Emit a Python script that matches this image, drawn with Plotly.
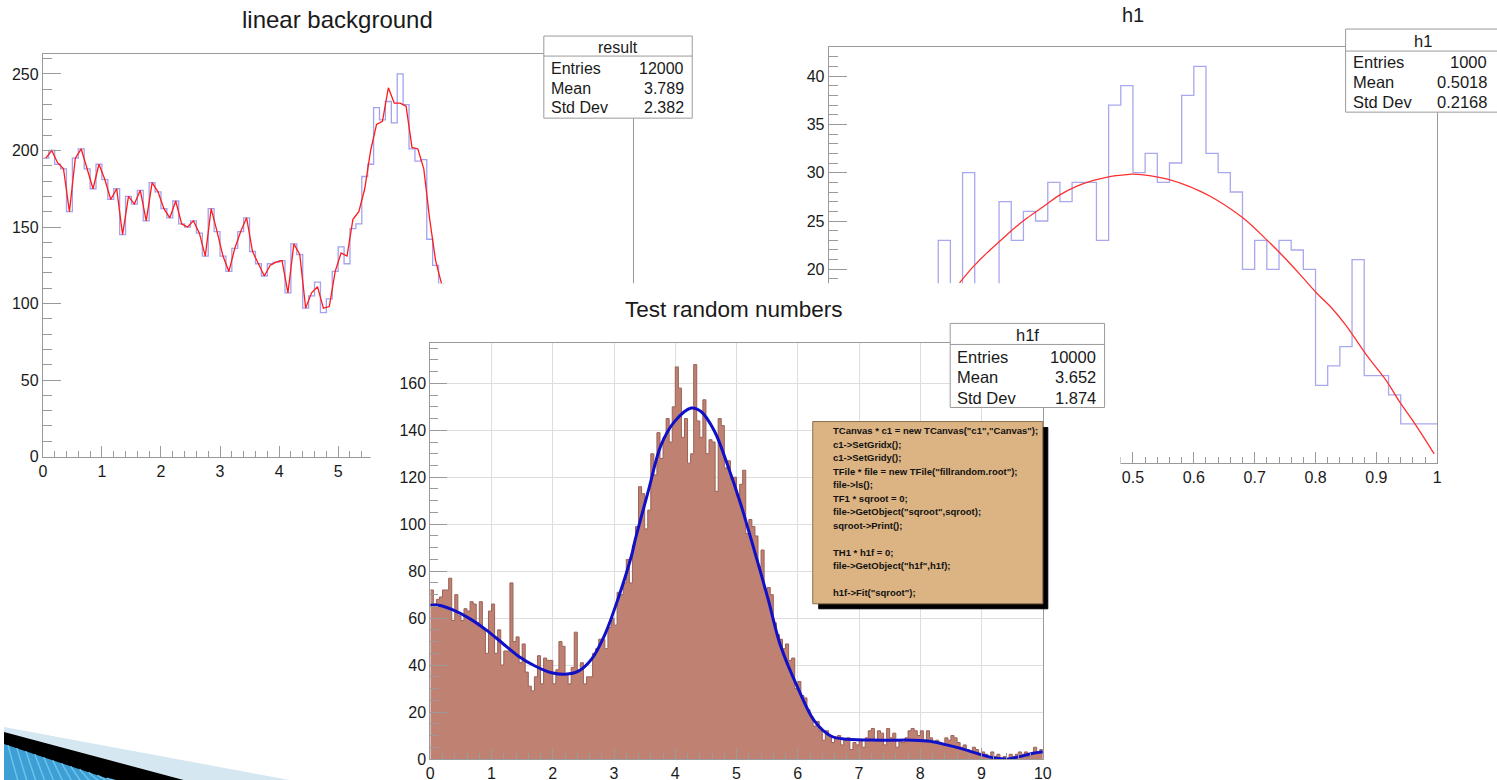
import plotly.graph_objects as go

W, H = 1497, 780          # reference canvas size used to place things in paper fractions
FIG_W, FIG_H = 1504, 790  # page size of the figure
def px(x): return x / W
def py(y): return 1 - y / H

FONT = "Liberation Sans, Arial, Helvetica, sans-serif"
FRAME = "#9a9a9a"
TXT = "#1a1a1a"

# ---------------- data: "linear background" (100 bins on [0,10], visible part) -------------
lb_bin_width = 0.1
lb_values = [195, 200, 191, 188, 160, 195, 201, 188, 175, 191,
             181, 168, 175, 145, 170, 165, 174, 154, 179, 173,
             162, 156, 167, 152, 150, 154, 146, 131, 162, 147,
             131, 121, 136, 147, 156, 134, 126, 118, 126, 127,
             128, 107, 139, 132, 97, 105, 114, 94, 103, 121,
             137, 126, 149, 152, 183, 191, 228, 220, 232, 218,
             250, 230, 201, 193, 194, 142, 125, 113]
lb_fit = [195, 200, 192, 188, 160, 195, 201, 188, 175, 191,
          181, 168, 175, 145, 170, 165, 174, 154, 179, 173,
          162, 156, 167, 152, 150, 154, 146, 131, 162, 147,
          131, 121, 136, 147, 156, 134, 126, 118, 125, 127,
          128, 107, 139, 132, 97, 107, 111, 97, 98, 121,
          133, 131, 155, 160, 175, 200, 217, 219, 241, 231,
          231, 229, 202, 201, 188, 155, 128, 113]
lb_stats = [("Entries", "12000"), ("Mean", "3.789"), ("Std Dev", "2.382")]
lb_xtick_vals = [0, 1, 2, 3, 4, 5, 6, 7, 8, 9, 10]
lb_xtick_labels = ["0", "1", "2", "3", "4", "5", "", "", "", "", ""]

# ---------------- data: "h1" (50 bins on [0,1]) ----------------
h1_bin_width = 0.02
h1_values = [3, 5, 6, 8, 10, 11, 13, 14, 16, 23,
             15, 30, 17, 16, 27, 23, 26, 25, 29, 27,
             29, 29, 23, 37, 39, 30, 32, 29, 31, 38,
             41, 32, 30, 28, 20, 23, 20, 23, 22, 20,
             8, 10, 12, 21, 9, 9, 7, 4, 4, 4]
h1_fit_x = [0.215, 0.238, 0.260, 0.281, 0.304, 0.326, 0.353, 0.380, 0.408, 0.435,
            0.462, 0.490, 0.500, 0.555, 0.610, 0.637, 0.681, 0.719, 0.746, 0.774,
            0.801, 0.828, 0.850, 0.883, 0.916, 0.938, 0.965, 0.995]
h1_fit_y = [18.6, 20.3, 21.7, 22.9, 24.2, 25.3, 26.5, 27.7, 28.6, 29.2,
            29.6, 29.8, 29.85, 29.35, 28.1, 27.2, 25.3, 23.1, 21.4, 19.5,
            17.6, 15.9, 14.2, 11.2, 8.5, 6.3, 3.85, 0.9]
h1_stats = [("Entries", "1000"), ("Mean", "0.5018"), ("Std Dev", "0.2168")]
h1_xtick_vals = [0, 0.1, 0.2, 0.3, 0.4, 0.5, 0.6, 0.7, 0.8, 0.9, 1.0]
h1_xtick_labels = ["", "", "", "", "", "0.5", "0.6", "0.7", "0.8", "0.9", "1"]
h1_ytick_vals = [0, 5, 10, 15, 20, 25, 30, 35, 40]
h1_ytick_labels = ["", "", "", "", "20", "25", "30", "35", "40"]

# ---------------- data: "Test random numbers" h1f (200 bins on [0,10]) ----------------
h1f_bin_width = 0.05
h1f_values = [72, 66, 68, 69, 72, 72, 77, 59, 70, 61,
              59, 64, 63, 67, 66, 58, 67, 55, 45, 63,
              66, 45, 55, 40, 46, 46, 75, 50, 52, 41,
              49, 37, 31, 29, 35, 44, 32, 43, 42, 42,
              32, 38, 50, 48, 36, 32, 39, 54, 38, 41,
              32, 35, 35, 45, 47, 51, 51, 47, 56, 60,
              57, 71, 70, 75, 85, 75, 91, 99, 116, 113,
              98, 106, 130, 121, 139, 128, 137, 145, 135, 150,
              167, 158, 137, 145, 126, 130, 168, 144, 137, 153,
              130, 136, 135, 114, 145, 142, 124, 127, 119, 120,
              112, 117, 123, 96, 102, 99, 95, 82, 89, 72,
              73, 70, 58, 53, 51, 47, 49, 42, 43, 30,
              33, 27, 26, 21, 18, 14, 16, 12, 8, 12,
              10, 7, 9, 10, 6, 8, 9, 4, 7, 6,
              8, 5, 9, 12, 13, 8, 12, 11, 6, 13,
              9, 11, 5, 8, 7, 9, 12, 13, 12, 10,
              12, 8, 12, 9, 7, 8, 7, 6, 9, 8,
              10, 9, 7, 5, 6, 4, 3, 5, 4, 2,
              3, 2, 1, 3, 1, 2, 0, 1, 0, 2,
              1, 2, 3, 2, 3, 1, 2, 5, 3, 4]
h1f_fit_x = [0.0, 0.14, 0.36, 0.63, 0.90, 1.17, 1.44, 1.71, 1.98, 2.20,
             2.42, 2.63, 2.85, 3.07, 3.29, 3.34, 3.56, 3.77, 3.99, 4.26,
             4.42, 4.64, 4.85, 5.07, 5.20, 5.51, 5.72, 6.00, 6.27, 6.54,
             6.81, 7.35, 7.89, 8.16, 8.43, 8.70, 8.97, 9.24, 9.43, 9.62,
             9.84, 10.0]
h1f_fit_y = [65.5, 65.5, 63.6, 60.0, 55.2, 49.5, 43.8, 39.6, 36.7, 36.1,
             37.4, 42.4, 53.0, 68.6, 87.1, 92.8, 114.2, 133.9, 143.8, 149.5,
             148.0, 139.6, 125.4, 108.4, 97.0, 68.6, 48.1, 30.3, 16.2, 9.8,
             8.4, 8.0, 8.0, 7.5, 6.0, 4.2, 2.0, 0.3, 0.0, 1.0,
             2.4, 3.1]
h1f_stats = [("Entries", "10000"), ("Mean", "3.652"), ("Std Dev", "1.874")]

code_lines = ['TCanvas * c1 = new TCanvas("c1","Canvas");',
              'c1->SetGridx();',
              'c1->SetGridy();',
              'TFile * file = new TFile("fillrandom.root");',
              'file->ls();',
              'TF1 * sqroot = 0;',
              'file->GetObject("sqroot",sqroot);',
              'sqroot->Print();',
              '',
              'TH1 * h1f = 0;',
              'file->GetObject("h1f",h1f);',
              '',
              'h1f->Fit("sqroot");']

titles = ["linear background", "h1", "Test random numbers"]

# ---------------- helpers ----------------
def step_xy(values, width):
    xs = [i * width for i in range(len(values) + 1)]
    ys = list(values) + [values[-1]]
    return xs, ys

def centers(values, width):
    return [(i + 0.5) * width for i in range(len(values))]

fig = go.Figure()

# plot 1
x1, y1 = step_xy(lb_values, lb_bin_width)
fig.add_trace(go.Scatter(x=x1, y=y1, mode="lines", line=dict(color="#a2a2ee", width=1.3, shape="hv"),
                         xaxis="x", yaxis="y", hoverinfo="skip"))
fig.add_trace(go.Scatter(x=centers(lb_fit, lb_bin_width), y=lb_fit, mode="lines",
                         line=dict(color="#ff1a1a", width=1.3), xaxis="x", yaxis="y", hoverinfo="skip"))
# plot 2
x2, y2 = step_xy(h1_values, h1_bin_width)
fig.add_trace(go.Scatter(x=x2, y=y2, mode="lines", line=dict(color="#a8a8ee", width=1.3, shape="hv"),
                         xaxis="x2", yaxis="y2", hoverinfo="skip"))
fig.add_trace(go.Scatter(x=h1_fit_x, y=h1_fit_y, mode="lines", line=dict(color="#ff3030", width=1.3, shape="spline"),
                         xaxis="x2", yaxis="y2", hoverinfo="skip"))
# cover (background of the overlapping canvas)
fig.add_trace(go.Scatter(x=[None], y=[None], mode="lines", xaxis="x3", yaxis="y3", hoverinfo="skip"))
# plot 3
x4, y4 = step_xy(h1f_values, h1f_bin_width)
fig.add_trace(go.Scatter(x=x4, y=y4, mode="lines", line=dict(color="#9a6258", width=1, shape="hv"),
                         fill="tozeroy", fillcolor="#bf8172", xaxis="x4", yaxis="y4", hoverinfo="skip"))
fig.add_trace(go.Scatter(x=h1f_fit_x, y=h1f_fit_y, mode="lines", line=dict(color="#1010c8", width=3, shape="spline"),
                         xaxis="x4", yaxis="y4", hoverinfo="skip"))

tickfont = dict(family=FONT, size=16, color=TXT)

def ax(domain, rng, dtick, ticklen, mdtick, mlen, anchor, grid=False, tickvals=None, ticktext=None):
    d = dict(domain=domain, range=rng, dtick=dtick, tick0=0, anchor=anchor,
             showline=True, linecolor=FRAME, linewidth=1, mirror=True,
             ticks="inside", ticklen=ticklen, tickcolor=FRAME, tickwidth=1,
             minor=dict(ticks="inside", ticklen=mlen, dtick=mdtick, tick0=0, tickcolor=FRAME, showgrid=False),
             tickfont=tickfont, zeroline=False, showgrid=grid, gridcolor="#dedede", gridwidth=1,
             fixedrange=True)
    if tickvals is not None:
        d.update(tickmode="array", tickvals=tickvals, ticktext=ticktext)
    return d

layout = dict(
    width=FIG_W, height=FIG_H, autosize=False, margin=dict(l=0, r=0, t=0, b=0, pad=0),
    paper_bgcolor="white", plot_bgcolor="white", showlegend=False,
    xaxis=ax([px(39), px(632)], [0, 10], 1, 11, 0.2, 6, "y", tickvals=lb_xtick_vals, ticktext=lb_xtick_labels),
    yaxis=ax([py(456), py(54)], [0, 263], 50, 18, 10, 9, "x"),
    xaxis2=ax([px(828), px(1439)], [0, 1], 0.1, 11, 0.02, 6, "y2", tickvals=h1_xtick_vals, ticktext=h1_xtick_labels),
    yaxis2=ax([py(462), py(47)], [0, 43], 5, 18, 1, 9, "x2", tickvals=h1_ytick_vals, ticktext=h1_ytick_labels),
    xaxis3=dict(domain=[px(368), px(1121)], range=[0, 1], anchor="y3", showline=False, showticklabels=False,
                showgrid=False, zeroline=False, ticks="", fixedrange=True),
    yaxis3=dict(domain=[0, py(283)], range=[0, 1], anchor="x3", showline=False, showticklabels=False,
                showgrid=False, zeroline=False, ticks="", fixedrange=True),
    xaxis4=ax([px(428), px(1043)], [0, 10], 1, 11, 0.2, 6, "y4", grid=True),
    yaxis4=ax([py(758), py(343)], [0, 177], 20, 17, 5, 8, "x4", grid=True),
)
fig.update_layout(**layout)

shapes = []
annotations = []

def ann(x, y, text, size, xanchor="center", color=TXT, bold=False):
    annotations.append(dict(x=px(x), y=py(y), xref="paper", yref="paper", text=("<b>%s</b>" % text) if bold else text,
                            showarrow=False, xanchor=xanchor, yanchor="middle",
                            font=dict(family=FONT, size=size, color=color), borderpad=0))

def rect(x0, y0, x1, y1, fill, line, lw=1):
    shapes.append(dict(type="rect", xref="paper", yref="paper", x0=px(x0), x1=px(x1), y0=py(y1), y1=py(y0),
                       fillcolor=fill, line=dict(color=line, width=lw), layer="above"))

def stats_box(x0, x1, y0, ysep, y1, title, rows, lx, vx, row_y, size):
    rect(x0, y0, x1, y1, "white", FRAME)
    shapes.append(dict(type="line", xref="paper", yref="paper", x0=px(x0), x1=px(x1), y0=py(ysep), y1=py(ysep),
                       line=dict(color=FRAME, width=1), layer="above"))
    ann((x0 + x1) / 2, (y0 + ysep) / 2 + 1, title, size)
    for (lab, val), yy in zip(rows, row_y):
        ann(lx, yy, lab, size, xanchor="left")
        ann(vx, yy, val, size, xanchor="right")

stats_box(542, 691, 36, 56, 118, "result", lb_stats, 548, 684, [68, 88, 107], 16)
stats_box(1347, 1503, 29, 51, 112, "h1", h1_stats, 1353, 1490, [62, 82, 102], 16.5)
stats_box(950, 1105, 323, 344, 407, "h1f", h1f_stats, 956, 1097, [357, 377, 397], 16.5)

# titles
ann(335, 19, titles[0], 24)
ann(1134, 15, titles[1], 20)
ann(733, 309, titles[2], 22.5)

# code pave
rect(818, 427, 1048, 608, "black", "black")
rect(812, 421, 1043, 603, "#dcb483", "#8a7050", 1)
for i, line in enumerate(code_lines):
    if line:
        ann(831, 430 + 13.5 * i, line, 9.5, xanchor="left", color="#111111", bold=True)

# decoration bottom-left
shapes.append(dict(type="path", xref="paper", yref="paper", layer="above",
                   path="M %f,%f L %f,%f L %f,%f Z" % (px(0), py(726), px(292), py(780), px(0), py(780)),
                   fillcolor="#d5e8f1", line=dict(width=0)))
shapes.append(dict(type="path", xref="paper", yref="paper", layer="above",
                   path="M %f,%f L %f,%f L %f,%f Z" % (px(0), py(731), px(184), py(780), px(0), py(780)),
                   fillcolor="black", line=dict(width=0)))
shapes.append(dict(type="path", xref="paper", yref="paper", layer="above",
                   path="M %f,%f L %f,%f L %f,%f Z" % (px(0), py(743), px(111), py(780), px(0), py(780)),
                   fillcolor="#3d9fd3", line=dict(width=0)))
for k in range(12):
    xs = 4 + 9 * k
    ytop = 743 + xs * 37 / 111
    shapes.append(dict(type="line", xref="paper", yref="paper", layer="above",
                       x0=px(xs), y0=py(ytop), x1=px(xs + 10), y1=py(780),
                       line=dict(color="#6cc2ea", width=1.5)))

fig.update_layout(shapes=shapes, annotations=annotations)
fig.write_html("out.html",
               config={"displayModeBar": False, "staticPlot": True},
               post_script="document.documentElement.style.margin='0';"
                           "document.documentElement.style.overflow='hidden';"
                           "document.body.style.margin='0';document.body.style.padding='0';"
                           "document.body.style.overflow='hidden';")
